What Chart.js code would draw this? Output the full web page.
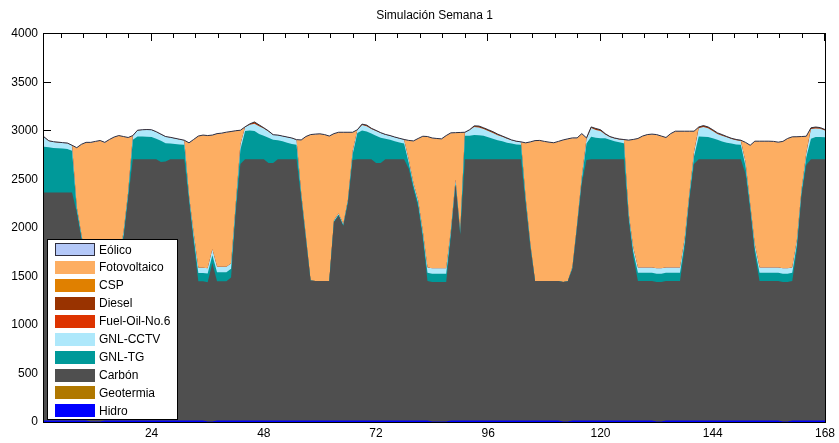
<!DOCTYPE html>
<html lang="es">
<head>
<meta charset="utf-8">
<title>Simulación Semana 1</title>
<script src="https://cdn.jsdelivr.net/npm/chart.js@4.4.1/dist/chart.umd.min.js"></script>
<style>
  html, body { margin: 0; padding: 0; background: #fff; }
  canvas { display: block; }
</style>
</head>
<body>
<canvas id="despacho" width="839" height="443"></canvas>
<script>
// Horas de la semana (una fila por día)
const horas = [
  1, 2, 3, 4, 5, 6, 7, 8, 9, 10, 11, 12, 13, 14, 15, 16, 17, 18, 19, 20, 21, 22, 23, 24,
  25, 26, 27, 28, 29, 30, 31, 32, 33, 34, 35, 36, 37, 38, 39, 40, 41, 42, 43, 44, 45, 46, 47, 48,
  49, 50, 51, 52, 53, 54, 55, 56, 57, 58, 59, 60, 61, 62, 63, 64, 65, 66, 67, 68, 69, 70, 71, 72,
  73, 74, 75, 76, 77, 78, 79, 80, 81, 82, 83, 84, 85, 86, 87, 88, 89, 90, 91, 92, 93, 94, 95, 96,
  97, 98, 99, 100, 101, 102, 103, 104, 105, 106, 107, 108, 109, 110, 111, 112, 113, 114, 115, 116, 117, 118, 119, 120,
  121, 122, 123, 124, 125, 126, 127, 128, 129, 130, 131, 132, 133, 134, 135, 136, 137, 138, 139, 140, 141, 142, 143, 144,
  145, 146, 147, 148, 149, 150, 151, 152, 153, 154, 155, 156, 157, 158, 159, 160, 161, 162, 163, 164, 165, 166, 167, 168
];
const ticksHoras = [24, 48, 72, 96, 120, 144, 168];
const ticksMW = [0, 500, 1000, 1500, 2000, 2500, 3000, 3500, 4000];

// Generación por tecnología [MW]
const hidro = [
  10, 10, 10, 10, 10, 10, 10, 10, 10, 10, 0, 0, 0, 10, 10, 10, 10, 10, 10, 10, 10, 10, 10, 10,
  10, 10, 10, 10, 10, 10, 10, 10, 10, 10, 10, 0, 0, 10, 10, 10, 10, 10, 10, 10, 10, 10, 10, 10,
  10, 10, 10, 10, 10, 10, 10, 10, 10, 10, 10, 10, 10, 10, 10, 10, 10, 10, 10, 10, 10, 10, 10, 10,
  10, 10, 10, 10, 10, 10, 10, 10, 10, 10, 10, 0, 0, 0, 0, 10, 10, 10, 10, 10, 10, 10, 10, 10,
  10, 10, 10, 10, 10, 10, 10, 10, 10, 10, 10, 10, 10, 10, 10, 0, 0, 10, 10, 10, 10, 10, 10, 10,
  10, 10, 10, 10, 10, 10, 10, 10, 10, 10, 10, 0, 0, 10, 10, 10, 10, 10, 10, 10, 10, 10, 10, 10,
  10, 10, 10, 10, 10, 10, 10, 10, 10, 10, 10, 10, 10, 10, 0, 0, 10, 10, 10, 10, 10, 10, 10, 10
];
const geotermia = [
  0, 0, 0, 0, 0, 0, 0, 0, 0, 0, 0, 0, 0, 0, 0, 0, 0, 0, 0, 0, 0, 0, 0, 0,
  0, 0, 0, 0, 0, 0, 0, 0, 0, 0, 0, 0, 0, 0, 0, 0, 0, 0, 0, 0, 0, 0, 0, 0,
  0, 0, 0, 0, 0, 0, 0, 0, 0, 0, 0, 0, 0, 0, 0, 0, 0, 0, 0, 0, 0, 0, 0, 0,
  0, 0, 0, 0, 0, 0, 0, 0, 0, 0, 0, 0, 0, 0, 0, 0, 0, 0, 0, 0, 0, 0, 0, 0,
  0, 0, 0, 0, 0, 0, 0, 0, 0, 0, 0, 0, 0, 0, 0, 0, 0, 0, 0, 0, 0, 0, 0, 0,
  0, 0, 0, 0, 0, 0, 0, 0, 0, 0, 0, 0, 0, 0, 0, 0, 0, 0, 0, 0, 0, 0, 0, 0,
  0, 0, 0, 0, 0, 0, 0, 0, 0, 0, 0, 0, 0, 0, 0, 0, 0, 0, 0, 0, 0, 0, 0, 0
];
const carbon = [
  2357, 2357, 2357, 2357, 2357, 2357, 2357, 2150, 1880, 1600, 1450, 1450, 1450, 1450, 1450, 1450, 1620, 1880, 2300, 2700, 2700, 2700, 2700, 2700,
  2700, 2670, 2676, 2700, 2700, 2700, 2700, 2270, 1840, 1440, 1440, 1440, 1640, 1440, 1440, 1440, 1480, 2150, 2650, 2700, 2700, 2700, 2700, 2700,
  2660, 2660, 2700, 2700, 2700, 2700, 2700, 2290, 1870, 1450, 1443, 1443, 1443, 1443, 2050, 2120, 2010, 2250, 2690, 2700, 2700, 2700, 2700, 2660,
  2660, 2700, 2700, 2700, 2700, 2700, 2600, 2390, 2210, 1880, 1443, 1443, 1443, 1443, 1443, 1900, 2440, 1920, 2700, 2700, 2700, 2700, 2700, 2700,
  2700, 2700, 2700, 2700, 2700, 2700, 2700, 2235, 1790, 1443, 1443, 1443, 1443, 1443, 1443, 1443, 1450, 1570, 2000, 2450, 2690, 2700, 2700, 2700,
  2700, 2700, 2700, 2700, 2700, 2085, 1690, 1443, 1443, 1443, 1443, 1443, 1443, 1443, 1443, 1443, 1443, 1785, 2280, 2650, 2700, 2700, 2700, 2700,
  2700, 2700, 2700, 2700, 2700, 2700, 2550, 2176, 1720, 1443, 1443, 1443, 1443, 1443, 1443, 1443, 1443, 1770, 2330, 2640, 2700, 2700, 2700, 2700
];
const gnlTG = [
  470, 465, 458, 455, 452, 448, 430, 40, 30, 30, 30, 30, 30, 30, 30, 30, 40, 40, 40, 200, 233, 233, 230, 227,
  210, 220, 189, 160, 155, 150, 148, 40, 60, 85, 85, 90, 80, 95, 95, 95, 90, 60, 150, 290, 295, 290, 260, 240,
  260, 239, 195, 185, 170, 155, 148, 40, 20, 0, 0, 0, 0, 0, 10, 10, 10, 20, 60, 270, 295, 285, 265, 280,
  260, 210, 200, 185, 172, 160, 60, 40, 40, 50, 86, 86, 86, 86, 86, 40, 20, 15, 240, 240, 250, 245, 240, 225,
  210, 195, 185, 170, 160, 150, 148, 40, 20, 0, 0, 0, 0, 0, 0, 0, 0, 10, 15, 40, 170, 230, 220, 215,
  215, 200, 185, 175, 165, 40, 60, 86, 86, 86, 86, 86, 86, 86, 86, 86, 86, 60, 40, 80, 233, 230, 227, 215,
  200, 182, 170, 160, 152, 148, 80, 40, 60, 86, 86, 86, 86, 86, 86, 86, 86, 60, 40, 80, 210, 227, 227, 225
];
const gnlCCTV = [
  100, 65, 62, 60, 58, 58, 53, 20, 15, 15, 15, 15, 15, 15, 15, 15, 20, 25, 25, 40, 62, 67, 72, 73,
  70, 65, 65, 62, 57, 52, 44, 20, 40, 55, 55, 55, 60, 55, 55, 55, 55, 30, 50, 40, 60, 75, 80, 75,
  65, 50, 50, 50, 55, 60, 50, 20, 15, 0, 0, 0, 0, 0, 10, 10, 10, 15, 30, 30, 58, 55, 45, 50,
  50, 42, 40, 40, 40, 40, 30, 25, 25, 30, 55, 55, 55, 55, 55, 25, 30, 15, 34, 60, 80, 80, 70, 65,
  60, 50, 45, 40, 35, 32, 27, 25, 15, 0, 0, 0, 0, 0, 0, 0, 0, 10, 15, 30, 46, 90, 80, 75,
  40, 28, 28, 28, 34, 25, 40, 55, 55, 55, 55, 55, 55, 55, 55, 55, 55, 40, 25, 40, 85, 100, 92, 75,
  60, 60, 55, 47, 43, 40, 40, 25, 40, 55, 55, 55, 55, 55, 55, 55, 55, 40, 25, 40, 100, 88, 85, 70
];
const fuelOil = [
  0, 0, 0, 0, 0, 0, 0, 0, 0, 0, 0, 0, 0, 0, 0, 0, 0, 0, 0, 0, 0, 0, 0, 0,
  0, 0, 0, 0, 0, 0, 0, 0, 0, 0, 0, 0, 0, 0, 0, 0, 0, 0, 0, 0, 0, 5, 0, 0,
  0, 0, 0, 0, 0, 0, 0, 0, 0, 0, 0, 0, 0, 0, 0, 0, 0, 0, 0, 0, 0, 0, 0, 0,
  0, 0, 0, 0, 0, 0, 0, 0, 0, 0, 0, 0, 0, 0, 0, 0, 0, 0, 0, 0, 0, 3, 0, 0,
  0, 0, 0, 0, 0, 0, 0, 0, 0, 0, 0, 0, 0, 0, 0, 0, 0, 0, 0, 0, 0, 0, 3, 0,
  0, 0, 0, 0, 0, 0, 0, 0, 0, 0, 0, 0, 0, 0, 0, 0, 0, 0, 0, 0, 0, 3, 0, 0,
  0, 0, 0, 0, 0, 0, 0, 0, 0, 0, 0, 0, 0, 0, 0, 0, 0, 0, 0, 0, 0, 3, 0, 0
];
const diesel = [
  0, 0, 0, 0, 0, 0, 0, 0, 0, 0, 0, 0, 0, 0, 0, 0, 0, 0, 0, 0, 0, 0, 0, 0,
  0, 0, 0, 0, 0, 0, 0, 0, 0, 0, 0, 0, 0, 0, 0, 0, 0, 0, 0, 0, 5, 10, 10, 5,
  3, 0, 0, 0, 0, 0, 0, 0, 0, 0, 0, 0, 0, 0, 0, 0, 0, 0, 0, 0, 5, 8, 5, 3,
  0, 0, 0, 0, 0, 0, 0, 0, 0, 0, 0, 0, 0, 0, 0, 0, 0, 0, 0, 0, 10, 10, 10, 10,
  10, 10, 5, 5, 0, 0, 0, 0, 0, 0, 0, 0, 0, 0, 0, 0, 0, 0, 0, 0, 0, 9, 10, 10,
  5, 2, 2, 2, 0, 0, 0, 0, 0, 0, 0, 0, 0, 0, 0, 0, 0, 0, 0, 0, 10, 10, 10, 10,
  8, 8, 5, 5, 5, 4, 0, 0, 0, 0, 0, 0, 0, 0, 0, 0, 0, 0, 0, 0, 10, 10, 10, 7
];
const csp = [
  0, 0, 0, 0, 0, 0, 0, 0, 0, 0, 0, 0, 0, 0, 0, 0, 0, 0, 0, 0, 0, 0, 0, 0,
  0, 0, 0, 0, 0, 0, 0, 0, 0, 0, 0, 0, 0, 0, 0, 0, 0, 0, 0, 0, 0, 0, 0, 0,
  0, 0, 0, 0, 0, 0, 0, 0, 0, 0, 0, 0, 0, 0, 0, 0, 0, 0, 0, 0, 0, 0, 0, 0,
  0, 0, 0, 0, 0, 0, 0, 0, 0, 0, 0, 0, 0, 0, 0, 0, 0, 0, 0, 0, 0, 0, 0, 0,
  0, 0, 0, 0, 0, 0, 0, 0, 0, 0, 0, 0, 0, 0, 0, 0, 0, 0, 0, 0, 0, 0, 0, 0,
  0, 0, 0, 0, 0, 0, 0, 0, 0, 0, 0, 0, 0, 0, 0, 0, 0, 0, 0, 0, 0, 0, 0, 0,
  0, 0, 0, 0, 0, 0, 0, 0, 0, 0, 0, 0, 0, 0, 0, 0, 0, 0, 0, 0, 0, 0, 0, 0
];
const fotovoltaico = [
  0, 0, 0, 0, 0, 0, 0, 605, 925, 1225, 1385, 1395, 1404, 1375, 1405, 1430, 1260, 985, 555, 0, 0, 0, 0, 0,
  0, 0, 0, 0, 0, 0, 0, 535, 960, 1355, 1365, 1365, 1175, 1370, 1375, 1385, 1357, 750, 145, 0, 0, 0, 0, 0,
  0, 0, 0, 0, 0, 0, 0, 545, 1025, 1500, 1512, 1515, 1507, 1492, 890, 834, 944, 689, 194, 0, 0, 0, 0, 0,
  0, 0, 0, 0, 0, 0, 200, 430, 635, 973, 1346, 1341, 1336, 1332, 1366, 1003, 480, 1022, 0, 0, 0, 0, 0, 0,
  0, 0, 0, 0, 0, 0, 0, 565, 1050, 1445, 1447, 1437, 1429, 1423, 1437, 1462, 1466, 1326, 886, 440, 10, 0, 0, 0,
  0, 0, 0, 0, 0, 743, 1110, 1326, 1351, 1366, 1371, 1376, 1361, 1336, 1376, 1401, 1401, 1100, 640, 215, 0, 0, 0, 0,
  0, 0, 0, 0, 0, 0, 200, 599, 1062, 1298, 1298, 1298, 1296, 1288, 1306, 1336, 1343, 1058, 535, 173, 0, 0, 0, 0
];
const eolico = [
  3, 3, 3, 3, 3, 3, 3, 3, 3, 3, 3, 3, 3, 3, 3, 3, 3, 3, 3, 3, 3, 3, 3, 3,
  3, 3, 3, 3, 3, 3, 3, 3, 3, 3, 3, 3, 3, 3, 3, 3, 3, 3, 3, 3, 3, 3, 3, 3,
  3, 3, 3, 3, 3, 3, 3, 3, 3, 3, 3, 3, 3, 3, 3, 3, 3, 3, 3, 3, 3, 3, 3, 3,
  3, 3, 3, 3, 3, 3, 3, 3, 3, 3, 3, 3, 3, 3, 3, 3, 3, 3, 3, 3, 3, 3, 3, 3,
  3, 3, 3, 3, 3, 3, 3, 3, 3, 3, 3, 3, 3, 3, 3, 3, 3, 3, 3, 3, 3, 3, 3, 3,
  3, 3, 3, 3, 3, 3, 3, 3, 3, 3, 3, 3, 3, 3, 3, 3, 3, 3, 3, 3, 3, 3, 3, 3,
  3, 3, 3, 3, 3, 3, 3, 3, 3, 3, 3, 3, 3, 3, 3, 3, 3, 3, 3, 3, 3, 3, 3, 3
];

const FUENTE = "'Liberation Sans', Arial, sans-serif";

// Capas apiladas, de abajo hacia arriba
const capas = [
  { nombre: 'Hidro',         datos: hidro,        color: '#0000ff', borde: '#0000ff', ancho: 1 },
  { nombre: 'Geotermia',     datos: geotermia,    color: '#b07800' },
  { nombre: 'Carbón',        datos: carbon,       color: '#4f4f4f' },
  { nombre: 'GNL-TG',        datos: gnlTG,        color: '#009999' },
  { nombre: 'GNL-CCTV',      datos: gnlCCTV,      color: '#aee8fb' },
  { nombre: 'Fuel-Oil-No.6', datos: fuelOil,      color: '#dd3300' },
  { nombre: 'Diesel',        datos: diesel,       color: '#993300' },
  { nombre: 'CSP',           datos: csp,          color: '#e08000' },
  { nombre: 'Fotovoltaico',  datos: fotovoltaico, color: '#fdae62' },
  { nombre: 'Eólico',        datos: eolico,       color: '#b4c8f8', borde: '#2e2e3e', ancho: 1 }
];

// Marcas de los ejes hacia dentro, en los cuatro lados y debajo de las áreas
const marcasEje = {
  id: 'marcasEje',
  beforeDraw(chart) {
    const { ctx, chartArea: a, scales: { x, y } } = chart;
    ctx.save();
    ctx.strokeStyle = '#000';
    ctx.lineWidth = 1;
    ctx.beginPath();
    ticksMW.forEach(v => {
      const py = Math.round(y.getPixelForValue(v)) - 0.5;
      ctx.moveTo(a.left, py);
      ctx.lineTo(a.left + 7, py);
      ctx.moveTo(a.right, py);
      ctx.lineTo(a.right - 7, py);
    });
    // secundarias cada 4.8 h, principales cada 24 h
    for (let k = 1; k <= 35; k++) {
      const px = Math.round(x.getPixelForValue(k * 4.8)) - 0.5;
      const largo = k % 5 === 0 ? 7 : 4;
      ctx.moveTo(px, a.top);
      ctx.lineTo(px, a.top + largo);
      ctx.moveTo(px, a.bottom);
      ctx.lineTo(px, a.bottom - largo);
    }
    ctx.stroke();
    ctx.restore();
  }
};

// Marco, título y leyenda
const adornos = {
  id: 'adornos',
  afterDraw(chart) {
    const { ctx, chartArea: a } = chart;
    ctx.save();

    ctx.strokeStyle = '#000';
    ctx.lineWidth = 1;
    ctx.strokeRect(a.left - 0.5, a.top - 0.5, a.right - a.left + 1, a.bottom - a.top + 1);

    ctx.fillStyle = '#000';
    ctx.font = '12px ' + FUENTE;
    ctx.textAlign = 'center';
    ctx.textBaseline = 'middle';
    ctx.fillText('Simulación Semana 1', (a.left + a.right) / 2, 16);

    // caja de la leyenda
    const caja = { x: 47, y: 239, w: 131, h: 181 };
    ctx.fillStyle = '#fff';
    ctx.fillRect(caja.x, caja.y, caja.w, caja.h);
    ctx.strokeRect(caja.x + 0.5, caja.y + 0.5, caja.w - 1, caja.h - 1);

    ctx.textAlign = 'left';
    capas.slice().reverse().forEach((c, i) => {
      const cy = 249.7 + i * 17.9;
      const top = Math.round(cy - 6.5);
      ctx.fillStyle = c.color;
      ctx.fillRect(55, top, 40, 13);
      if (c.nombre === 'Eólico') {
        ctx.strokeStyle = c.borde;
        ctx.strokeRect(55.5, top + 0.5, 39, 12);
      }
      ctx.fillStyle = '#000';
      ctx.fillText(c.nombre, 99, cy + 0.5);
    });

    ctx.restore();
  }
};

new Chart(document.getElementById('despacho'), {
  type: 'line',
  data: {
    labels: horas,
    datasets: capas.map(c => ({
      label: c.nombre,
      data: c.datos,
      backgroundColor: c.color,
      borderColor: c.borde || 'transparent',
      borderWidth: c.ancho || 0,
      fill: 'origin',
      pointRadius: 0,
      tension: 0
    }))
  },
  options: {
    responsive: false,
    devicePixelRatio: 1,
    animation: false,
    layout: { padding: { left: 0, right: 13, top: 34, bottom: 0 } },
    scales: {
      x: {
        type: 'linear',
        min: 1,
        max: 168,
        grid: { display: false, drawTicks: false },
        border: { display: false },
        ticks: {
          color: '#000',
          font: { family: FUENTE, size: 12 },
          padding: 4,
          maxRotation: 0,
          autoSkip: false,
          callback: v => String(v)
        },
        afterBuildTicks: s => { s.ticks = ticksHoras.map(v => ({ value: v })); },
        afterFit: s => { s.height = 21; }
      },
      y: {
        stacked: true,
        min: 0,
        max: 4000,
        grid: { display: false, drawTicks: false },
        border: { display: false },
        ticks: {
          color: '#000',
          font: { family: FUENTE, size: 12 },
          padding: 6,
          callback: v => String(v)
        },
        afterBuildTicks: s => { s.ticks = ticksMW.map(v => ({ value: v })); },
        afterFit: s => { s.width = 44; }
      }
    },
    plugins: {
      legend: { display: false },
      tooltip: { enabled: false },
      filler: { drawTime: 'beforeDatasetsDraw' }
    }
  },
  plugins: [marcasEje, adornos]
});
</script>
</body>
</html>
